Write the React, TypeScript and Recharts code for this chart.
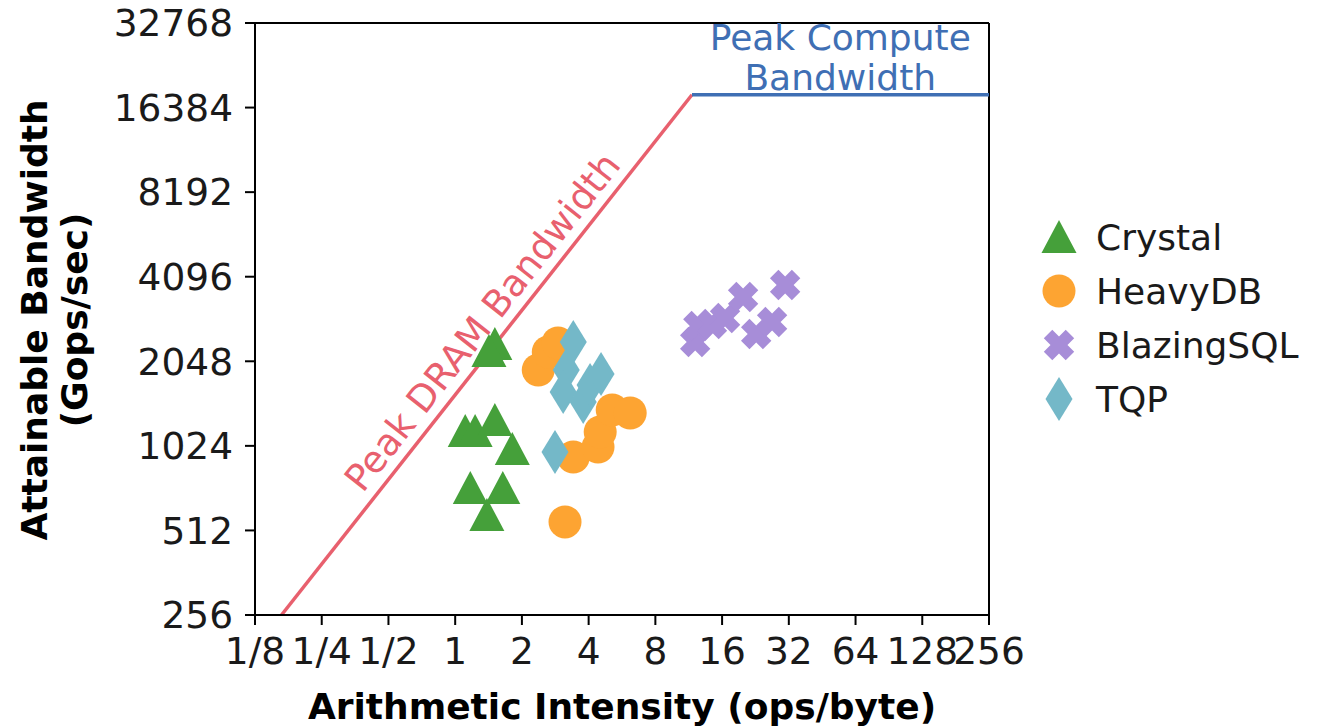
import React from "react";
import {
  ComposedChart,
  Scatter,
  Line,
  XAxis,
  YAxis,
  ReferenceLine,
  ReferenceDot,
} from "recharts";

const FONT = "'DejaVu Sans', sans-serif";

const GREEN = "#45a03a";
const ORANGE = "#fda432";
const PURPLE = "#a78dd8";
const TEAL = "#74b8c8";
const DRAM_RED = "#e8606e";
const COMPUTE_BLUE = "#3f6fb4";

// axis ticks (log2 scale on both axes)
const X_TICKS = [0.125, 0.25, 0.5, 1, 2, 4, 8, 16, 32, 64, 128, 256];
const X_TICK_LABELS = ["1/8", "1/4", "1/2", "1", "2", "4", "8", "16", "32", "64", "128", "256"];
const Y_TICKS = [256, 512, 1024, 2048, 4096, 8192, 16384, 32768];

// roofline
const DRAM_BW = 1555; // GB/s
const PEAK_COMPUTE = 18200; // Gops/sec

// measured points: [ops/byte, Gops/sec]
const crystalX = [1.51, 1.42, 1.11, 1.23, 1.51, 1.81, 1.17, 1.64, 1.39];
const crystalY = [2359, 2229, 1157, 1157, 1266, 998, 725, 725, 581];

const heavyX = [2.37, 2.63, 2.91, 3.41, 4.41, 4.51, 5.11, 6.16, 3.13];
const heavyY = [1907, 2210, 2379, 934, 1014, 1147, 1374, 1340, 549];

const blazingX = [12.1, 12.5, 14.4, 16.5, 19.9, 22.8, 26.9, 30.8];
const blazingY = [2399, 2734, 2780, 2920, 3468, 2561, 2825, 3827];

const tqpX = [3.41, 3.17, 3.07, 3.78, 4.06, 4.55, 2.82];
const tqpY = [2399, 1907, 1592, 1467, 1686, 1846, 973];

const zip = (xs: number[], ys: number[]) => xs.map((x, i) => ({ x, y: ys[i] }));

const crystal = zip(crystalX, crystalY);
const heavy = zip(heavyX, heavyY);
const blazing = zip(blazingX, blazingY);
const tqp = zip(tqpX, tqpY);

const kneeX = PEAK_COMPUTE / DRAM_BW;
const dramLine = [
  { x: Y_TICKS[0] / DRAM_BW, y: Y_TICKS[0] },
  { x: kneeX, y: PEAK_COMPUTE },
];
const computeLine = [
  { x: kneeX, y: PEAK_COMPUTE },
  { x: 256, y: PEAK_COMPUTE },
];

// marker shapes, loosely following matplotlib's ^ o X d
const triangle = (cx: number, cy: number, fill: string) => (
  <polygon points={`${cx},${cy - 17} ${cx - 17.5},${cy + 16} ${cx + 17.5},${cy + 16}`} fill={fill} />
);
const circle = (cx: number, cy: number, fill: string) => <circle cx={cx} cy={cy} r={16.5} fill={fill} />;
const cross = (cx: number, cy: number, fill: string) => {
  const a = 15.5;
  const w = 6;
  const plus = [
    [-w, -a], [w, -a], [w, -w], [a, -w], [a, w], [w, w],
    [w, a], [-w, a], [-w, w], [-a, w], [-a, -w], [-w, -w],
  ];
  const c = Math.SQRT1_2;
  const pts = plus.map(([px, py]) => `${cx + (px - py) * c},${cy + (px + py) * c}`).join(" ");
  return <polygon points={pts} fill={fill} />;
};
const diamond = (cx: number, cy: number, fill: string) => (
  <polygon points={`${cx},${cy - 22} ${cx + 13.5},${cy} ${cx},${cy + 22} ${cx - 13.5},${cy}`} fill={fill} />
);

const SERIES = [
  { name: "Crystal", data: crystal, color: GREEN, marker: triangle },
  { name: "HeavyDB", data: heavy, color: ORANGE, marker: circle },
  { name: "BlazingSQL", data: blazing, color: PURPLE, marker: cross },
  { name: "TQP", data: tqp, color: TEAL, marker: diamond },
];

const LegendBox = () => (
  <div
    style={{
      position: "absolute",
      left: 1036,
      top: 210,
      fontFamily: FONT,
      fontSize: 36,
      color: "#1a1a1a",
    }}
  >
    {SERIES.map((s) => (
      <div key={s.name} style={{ display: "flex", alignItems: "center", height: 54 }}>
        <svg width={46} height={50} style={{ marginRight: 14 }}>
          {s.marker(23, 25, s.color)}
        </svg>
        <span>{s.name}</span>
      </div>
    ))}
  </div>
);

const tickStyle = { fontFamily: FONT, fontSize: 37.5, fill: "#1a1a1a" };

export default function App() {
  return (
    <div style={{ position: "relative", width: 1319, height: 728, background: "#fff" }}>
      <style>{`body{margin:0}`}</style>
      <ComposedChart
        width={1319}
        height={728}
        margin={{ top: 23, right: 330, bottom: 53, left: 135 }}
      >
        <XAxis
          dataKey="x"
          type="number"
          scale="log"
          domain={[0.125, 256]}
          ticks={X_TICKS}
          interval={0}
          height={60}
          tickFormatter={(v: number) => X_TICK_LABELS[X_TICKS.indexOf(v)] ?? String(v)}
          tick={tickStyle}
          tickSize={10}
          tickMargin={12}
          axisLine={{ stroke: "#000", strokeWidth: 2 }}
          tickLine={{ stroke: "#000", strokeWidth: 2 }}
        />
        <YAxis
          dataKey="y"
          type="number"
          scale="log"
          domain={[256, 32768]}
          ticks={Y_TICKS}
          interval={0}
          width={120}
          tick={tickStyle}
          tickSize={10}
          tickMargin={12}
          axisLine={{ stroke: "#000", strokeWidth: 2 }}
          tickLine={{ stroke: "#000", strokeWidth: 2 }}
        />
        <ReferenceLine y={32768} stroke="#000" strokeWidth={2} />
        <ReferenceLine x={256} stroke="#000" strokeWidth={2} />

        <Line
          data={dramLine}
          dataKey="y"
          stroke={DRAM_RED}
          strokeWidth={3.5}
          dot={false}
          activeDot={false}
          isAnimationActive={false}
          legendType="none"
        />
        <Line
          data={computeLine}
          dataKey="y"
          stroke={COMPUTE_BLUE}
          strokeWidth={3.5}
          dot={false}
          activeDot={false}
          isAnimationActive={false}
          legendType="none"
        />

        <ReferenceDot
          x={1.33}
          y={2826}
          r={0}
          shape={(p: any) => (
            <text
              x={p.cx}
              y={p.cy}
              transform={`rotate(-51.7 ${p.cx} ${p.cy})`}
              textAnchor="middle"
              dominantBaseline="central"
              fontFamily={FONT}
              fontSize={37}
              fill={DRAM_RED}
            >
              Peak DRAM Bandwidth
            </text>
          )}
        />
        <ReferenceDot
          x={54.6}
          y={24600}
          r={0}
          shape={(p: any) => (
            <text textAnchor="middle" fontFamily={FONT} fontSize={36} fill={COMPUTE_BLUE}>
              <tspan x={p.cx} y={p.cy - 20} dominantBaseline="central">Peak Compute</tspan>
              <tspan x={p.cx} y={p.cy + 20} dominantBaseline="central">Bandwidth</tspan>
            </text>
          )}
        />

        {SERIES.map((s) => (
          <Scatter
            key={s.name}
            name={s.name}
            data={s.data}
            fill={s.color}
            isAnimationActive={false}
            shape={(p: any) => s.marker(p.cx, p.cy, s.color)}
          />
        ))}
      </ComposedChart>

      <LegendBox />

      <div
        style={{
          position: "absolute",
          left: 55,
          top: 320,
          transform: "translate(-50%, -50%) rotate(-90deg)",
          fontFamily: FONT,
          fontWeight: "bold",
          fontSize: 36,
          lineHeight: "40px",
          textAlign: "center",
          whiteSpace: "nowrap",
          color: "#000",
        }}
      >
        Attainable Bandwidth
        <br />
        (Gops/sec)
      </div>
      <div
        style={{
          position: "absolute",
          left: 622,
          top: 706,
          transform: "translate(-50%, -50%)",
          fontFamily: FONT,
          fontWeight: "bold",
          fontSize: 36,
          whiteSpace: "nowrap",
          color: "#000",
        }}
      >
        Arithmetic Intensity (ops/byte)
      </div>
    </div>
  );
}
